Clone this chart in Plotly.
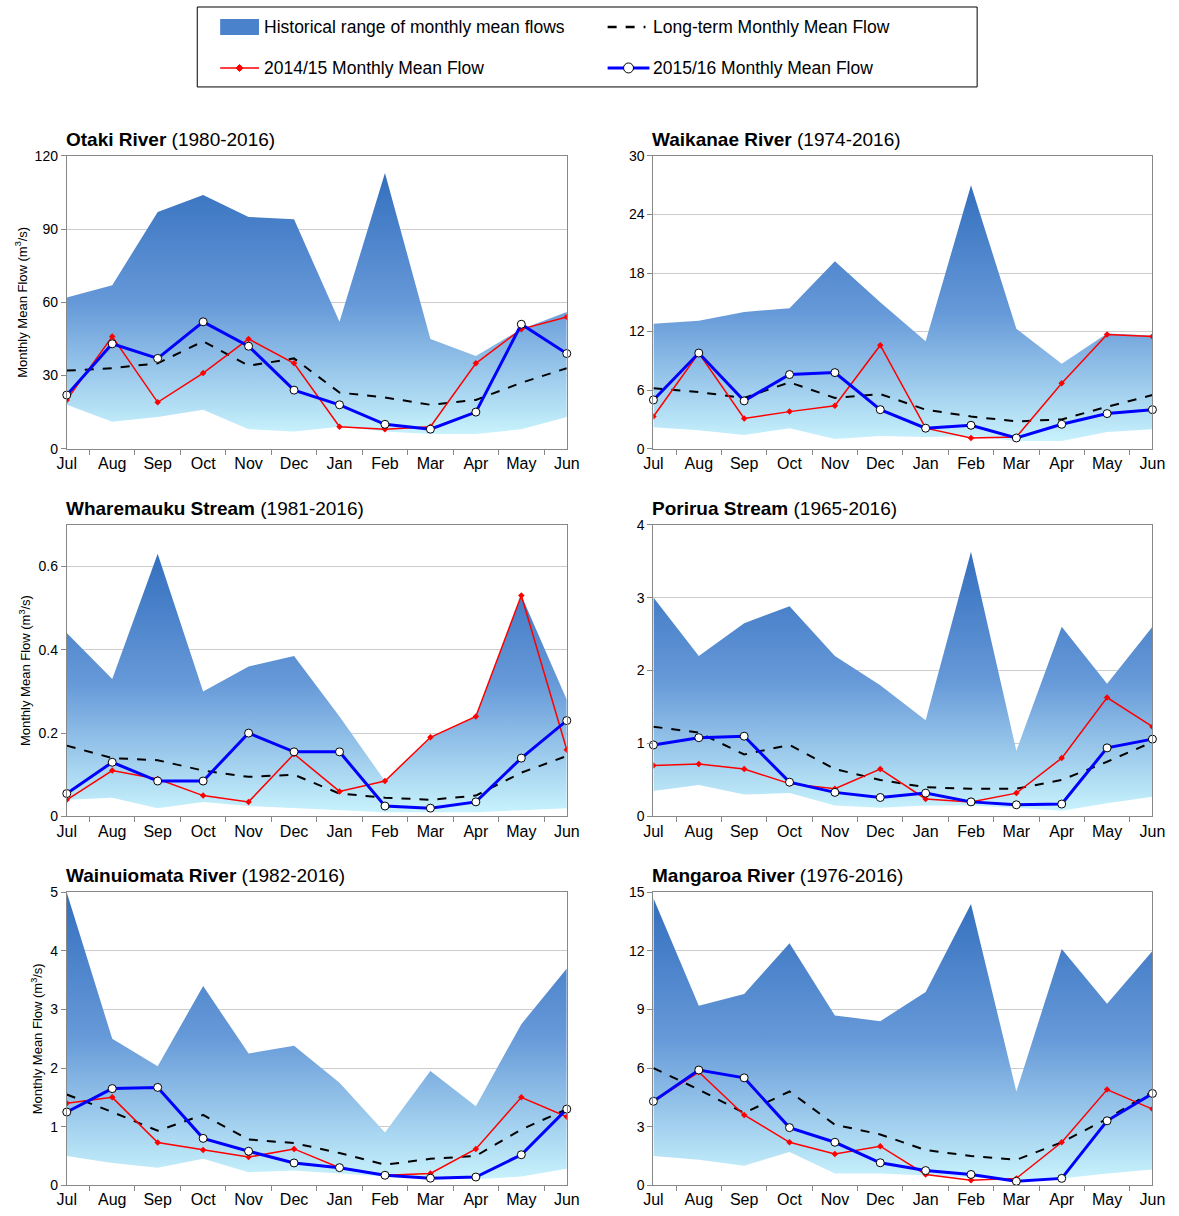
import plotly.graph_objects as go

months = ["Jul", "Aug", "Sep", "Oct", "Nov", "Dec", "Jan", "Feb", "Mar", "Apr", "May", "Jun"]

names = ["Otaki River", "Waikanae River", "Wharemauku Stream", "Porirua Stream", "Wainuiomata River", "Mangaroa River"]
periods = ["(1980-2016)", "(1974-2016)", "(1981-2016)", "(1965-2016)", "(1982-2016)", "(1976-2016)"]
ymax = [120, 30, 0.7, 4, 5, 15]
dticks = [30, 6, 0.2, 1, 1, 3]

otaki_max = [62, 67, 97, 104, 95, 94, 52, 113, 45, 38, 49, 56]
otaki_min = [18, 11, 13, 16, 8, 7, 9, 7, 6, 6, 8, 13]
otaki_lt = [32, 33, 35, 44, 34, 37, 23, 21, 18, 20, 27, 33]
otaki_1415 = [20, 46, 19, 31, 45, 35, 9, 8, 9, 35, 49, 54]
otaki_1516 = [22, 43, 37, 52, 42, 24, 18, 10, 8, 15, 51, 39]

waik_max = [12.8, 13.1, 14, 14.4, 19.2, 15, 11, 27, 12.3, 8.7, 11.8, 11.6]
waik_min = [2.2, 1.9, 1.4, 2.1, 1.0, 1.3, 1.2, 1.3, 0.8, 0.8, 1.7, 2.0]
waik_lt = [6.2, 5.8, 5.2, 6.8, 5.2, 5.6, 4.0, 3.3, 2.8, 3.0, 4.3, 5.5]
waik_1415 = [3.3, 9.8, 3.1, 3.8, 4.4, 10.6, 2.1, 1.1, 1.2, 6.7, 11.7, 11.5]
waik_1516 = [5.0, 9.8, 4.9, 7.6, 7.8, 4.0, 2.1, 2.4, 1.1, 2.5, 3.6, 4.0]

whare_max = [0.44, 0.33, 0.63, 0.30, 0.36, 0.385, 0.24, 0.085, 0.19, 0.24, 0.53, 0.28]
whare_min = [0.04, 0.045, 0.02, 0.035, 0.025, 0.02, 0.015, 0.01, 0.01, 0.01, 0.015, 0.02]
whare_lt = [0.17, 0.14, 0.135, 0.11, 0.095, 0.10, 0.055, 0.045, 0.04, 0.05, 0.105, 0.145]
whare_1415 = [0.04, 0.11, 0.09, 0.05, 0.035, 0.15, 0.06, 0.085, 0.19, 0.24, 0.53, 0.16]
whare_1516 = [0.055, 0.13, 0.085, 0.085, 0.20, 0.155, 0.155, 0.025, 0.02, 0.035, 0.14, 0.23]

pori_max = [3.0, 2.2, 2.65, 2.88, 2.2, 1.8, 1.32, 3.63, 0.9, 2.6, 1.82, 2.6]
pori_min = [0.35, 0.43, 0.3, 0.32, 0.15, 0.12, 0.15, 0.15, 0.12, 0.08, 0.18, 0.27]
pori_lt = [1.23, 1.15, 0.85, 0.98, 0.65, 0.5, 0.4, 0.38, 0.38, 0.5, 0.75, 1.02]
pori_1415 = [0.7, 0.72, 0.65, 0.45, 0.38, 0.65, 0.24, 0.2, 0.32, 0.8, 1.63, 1.23]
pori_1516 = [0.98, 1.08, 1.1, 0.47, 0.33, 0.26, 0.32, 0.2, 0.16, 0.17, 0.94, 1.06]

wainui_max = [5.0, 2.5, 2.03, 3.4, 2.25, 2.38, 1.75, 0.9, 1.95, 1.35, 2.75, 3.7]
wainui_min = [0.5, 0.38, 0.3, 0.45, 0.22, 0.25, 0.2, 0.15, 0.12, 0.1, 0.15, 0.28]
wainui_lt = [1.55, 1.25, 0.93, 1.2, 0.78, 0.72, 0.55, 0.35, 0.45, 0.5, 0.95, 1.3]
wainui_1415 = [1.4, 1.5, 0.73, 0.6, 0.48, 0.62, 0.3, 0.17, 0.2, 0.62, 1.5, 1.17]
wainui_1516 = [1.25, 1.65, 1.67, 0.8, 0.58, 0.38, 0.3, 0.17, 0.12, 0.14, 0.52, 1.3]

manga_max = [14.7, 9.2, 9.8, 12.4, 8.7, 8.4, 9.9, 14.4, 4.8, 12.1, 9.3, 12.0]
manga_min = [1.5, 1.3, 1.0, 1.7, 0.6, 0.6, 0.5, 0.4, 0.3, 0.35, 0.6, 0.8]
manga_lt = [6.0, 4.9, 3.7, 4.8, 3.1, 2.6, 1.8, 1.5, 1.3, 2.2, 3.4, 4.8]
manga_1415 = [4.3, 5.8, 3.6, 2.2, 1.6, 2.0, 0.55, 0.25, 0.35, 2.2, 4.9, 3.9]
manga_1516 = [4.3, 5.9, 5.5, 2.95, 2.2, 1.15, 0.75, 0.55, 0.2, 0.35, 3.3, 4.7]

series = [
    (otaki_max, otaki_min, otaki_lt, otaki_1415, otaki_1516),
    (waik_max, waik_min, waik_lt, waik_1415, waik_1516),
    (whare_max, whare_min, whare_lt, whare_1415, whare_1516),
    (pori_max, pori_min, pori_lt, pori_1415, pori_1516),
    (wainui_max, wainui_min, wainui_lt, wainui_1415, wainui_1516),
    (manga_max, manga_min, manga_lt, manga_1415, manga_1516),
]

W, H = 1179, 1216
xdom = [(65, 567), (654, 1155)]
ydom = [(155, 448), (524, 816), (892, 1185)]
grad = [[0, "#c8f2fc"], [0.5, "#6699d8"], [1, "#346fbe"]]
x = list(range(12))

# pixel position in the picture -> paper coords (corrects for page offset/scale)
def px(xp): return ((xp - 8) / 0.9844) / W
def py(yp): return 1 - ((yp - 7) / 0.9875) / H

fig = go.Figure()
for i, (mx, mn, lt, s1, s2) in enumerate(series):
    r, c = i // 2, i % 2
    n = "" if i == 0 else str(i + 1)
    xa, ya = "x" + n, "y" + n
    fig.add_trace(go.Scatter(x=x, y=mn, mode="lines", line=dict(width=0), showlegend=False,
                             xaxis=xa, yaxis=ya, hoverinfo="skip"))
    fig.add_trace(go.Scatter(x=x, y=mx, mode="lines", line=dict(width=0), fill="tonexty",
                             fillgradient=dict(type="vertical", colorscale=grad),
                             showlegend=False, xaxis=xa, yaxis=ya))
    fig.add_trace(go.Scatter(x=x, y=lt, mode="lines", line=dict(color="black", width=2, dash="dash"),
                             showlegend=False, xaxis=xa, yaxis=ya))
    fig.add_trace(go.Scatter(x=x, y=s1, mode="lines+markers", line=dict(color="#ff0000", width=1.5),
                             marker=dict(symbol="diamond", size=5, color="#ff0000"),
                             showlegend=False, xaxis=xa, yaxis=ya))
    fig.add_trace(go.Scatter(x=x, y=s2, mode="lines+markers", line=dict(color="#0000ff", width=3),
                             marker=dict(symbol="circle", size=8, color="white", line=dict(color="black", width=1)),
                             showlegend=False, xaxis=xa, yaxis=ya, cliponaxis=False))
    x0, x1 = xdom[c]
    y0, y1 = ydom[r]
    fig.update_layout({
        "xaxis" + n: dict(domain=[px(x0), px(x1)], anchor=ya, range=[0, 11], tickvals=x, ticktext=months,
                          showgrid=False, showline=True, linecolor="#888", mirror=True, ticks="outside",
                          ticklen=0, tickfont=dict(size=16, color="black"), zeroline=False,
                          minor=dict(tickvals=[k + 0.5 for k in range(11)], ticks="outside", ticklen=5, tickcolor="#888")),
        "yaxis" + n: dict(domain=[py(y1), py(y0)], anchor=xa, range=[0, ymax[i]], dtick=dticks[i],
                          showgrid=True, gridcolor="#cccccc", showline=True, linecolor="#888", mirror=True,
                          ticks="outside", ticklen=5, tickcolor="#888", zeroline=False,
                          tickfont=dict(size=14, color="black"),
                          title=dict(text="Monthly Mean Flow (m<sup>3</sup>/s)" if c == 0 else "",
                                     font=dict(size=13, color="black"), standoff=4)),
    })
    fig.add_annotation(xref="paper", yref="paper", x=px(x0 - 3), y=py(y0 - 4), xanchor="left",
                       yanchor="bottom", showarrow=False,
                       text="<b>%s</b> %s" % (names[i], periods[i]), font=dict(size=19, color="black"))

# legend box drawn manually
fig.add_shape(type="rect", xref="paper", yref="paper", x0=px(196), x1=px(979), y0=py(86), y1=py(6),
              line=dict(color="black", width=1), fillcolor="white")
fig.add_shape(type="rect", xref="paper", yref="paper", x0=px(219), x1=px(258), y0=py(34), y1=py(18),
              line=dict(width=0), fillcolor="#4a83cc")
fig.add_shape(type="line", xref="paper", yref="paper", x0=px(608), x1=px(646), y0=py(26), y1=py(26),
              line=dict(color="black", width=2.5, dash="dash"))
fig.add_shape(type="line", xref="paper", yref="paper", x0=px(219), x1=px(258), y0=py(67), y1=py(67),
              line=dict(color="red", width=1.5))
fig.add_shape(type="line", xref="paper", yref="paper", x0=px(608), x1=px(650), y0=py(67), y1=py(67),
              line=dict(color="blue", width=3))
fig.add_shape(type="circle", xref="paper", yref="paper", x0=px(624), x1=px(634), y0=py(72), y1=py(62),
              line=dict(color="black", width=1), fillcolor="white")
fig.add_shape(type="path", xref="paper", yref="paper",
              path="M %f,%f L %f,%f L %f,%f L %f,%f Z" % (px(235), py(67), px(238.5), py(63.5), px(242), py(67), px(238.5), py(70.5)),
              line=dict(color="red", width=1), fillcolor="red")
for tx, xx, yy in [("Historical range of monthly mean flows", 261, 26), ("Long-term Monthly Mean Flow", 652, 26),
                   ("2014/15 Monthly Mean Flow", 261, 67), ("2015/16 Monthly Mean Flow", 652, 67)]:
    fig.add_annotation(xref="paper", yref="paper", x=px(xx), y=py(yy), xanchor="left", yanchor="middle",
                       showarrow=False, text=tx, font=dict(size=17.5, color="black"))

fig.update_layout(width=W, height=H, margin=dict(l=0, r=0, t=0, b=0), plot_bgcolor="white",
                  paper_bgcolor="white", font=dict(family="Arial, Liberation Sans, sans-serif"))
fig.write_html("out.html", config={"displayModeBar": False},
               post_script="document.body.style.margin='0';document.body.style.overflow='hidden';")
